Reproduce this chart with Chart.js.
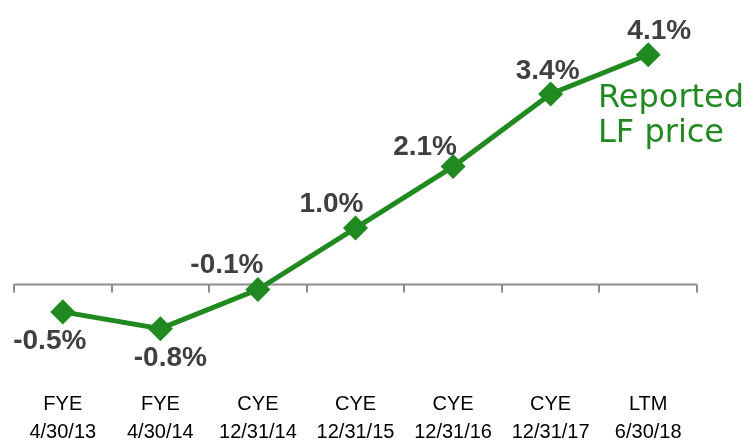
<!DOCTYPE html>
<html>
<head>
<meta charset="utf-8">
<script src="https://cdn.jsdelivr.net/npm/chart.js@4"></script>
<style>
  body { margin: 0; background: #fff; }
  #wrap { position: relative; width: 751px; height: 448px; }
</style>
</head>
<body>
<div id="wrap"><canvas id="line-chart"></canvas></div>
<script>
const periods = ['FYE', 'FYE', 'CYE', 'CYE', 'CYE', 'CYE', 'LTM']
const periodDates = ['4/30/13', '4/30/14', '12/31/14', '12/31/15', '12/31/16', '12/31/17', '6/30/18']
const priceChange = [-0.5, -0.8, -0.1, 1.0, 2.1, 3.4, 4.1]

// where each value label sits relative to its point
const labelOffsets = [[-13, 29], [10, 30], [-31, -24], [-24, -24], [-28, -19], [-3, -23], [11, -24]]

const green = '#208a20'

const zeroAxis = {
    id: 'zeroAxis',
    beforeDatasetsDraw(chart) {
        const x = chart.scales.x
        const y = chart.scales.y
        const y0 = Math.round(y.getPixelForValue(0)) + 0.5
        const half = (x.getPixelForValue(1) - x.getPixelForValue(0)) / 2
        const c = chart.ctx
        c.save()
        c.strokeStyle = '#8c8c8c'
        c.lineWidth = 2
        c.beginPath()
        c.moveTo(x.getPixelForValue(0) - half, y0)
        c.lineTo(x.getPixelForValue(priceChange.length - 1) + half, y0)
        for (let i = 0; i <= priceChange.length; i++) {
            const px = Math.round(x.getPixelForValue(i) - half)
            c.moveTo(px, y0)
            c.lineTo(px, y0 + 8)
        }
        c.stroke()
        c.restore()
    }
}

const valueLabels = {
    id: 'valueLabels',
    afterDatasetsDraw(chart) {
        const c = chart.ctx
        const pts = chart.getDatasetMeta(0).data
        c.save()
        c.font = 'bold 28px "Liberation Sans", Arial, sans-serif'
        c.fillStyle = '#404040'
        c.textAlign = 'center'
        c.textBaseline = 'middle'
        pts.forEach((p, i) => {
            const v = priceChange[i]
            c.fillText(v.toFixed(1) + '%', p.x + labelOffsets[i][0], p.y + labelOffsets[i][1])
        })
        // series note
        c.font = '32px "DejaVu Sans", sans-serif'
        c.fillStyle = green
        c.textAlign = 'left'
        c.textBaseline = 'alphabetic'
        c.fillText('Reported', 598, 107)
        c.fillText('LF price', 598, 142)
        c.restore()
    }
}

const ctx = document.getElementById('line-chart').getContext('2d')
const chart = new Chart(ctx, {
    type: 'line',
    plugins: [zeroAxis, valueLabels],
    data: {
        labels: periods.map((p, i) => [p, periodDates[i]]),
        datasets: [{
            data: priceChange,
            borderColor: green,
            backgroundColor: green,
            borderWidth: 5,
            pointStyle: 'rectRot',
            pointRadius: 9,
            pointHoverRadius: 9,
            tension: 0,
            clip: false
        }]
    },
    options: {
        responsive: true,
        maintainAspectRatio: false,
        animation: false,
        layout: { padding: { left: 11, right: 54, top: 7, bottom: 4 } },
        plugins: {
            legend: { display: false },
            tooltip: { enabled: false }
        },
        scales: {
            x: {
                offset: true,
                grid: { display: false, drawTicks: false },
                border: { display: false },
                afterFit(scale) { scale.height = 60 },
                ticks: {
                    color: '#000',
                    padding: 6,
                    maxRotation: 0,
                    autoSkip: false,
                    font: { family: '"Liberation Sans", Arial, sans-serif', size: 20, lineHeight: '28px' }
                }
            },
            y: {
                display: false,
                min: -1.79,
                max: 4.83
            }
        }
    }
})
</script>
</body>
</html>
